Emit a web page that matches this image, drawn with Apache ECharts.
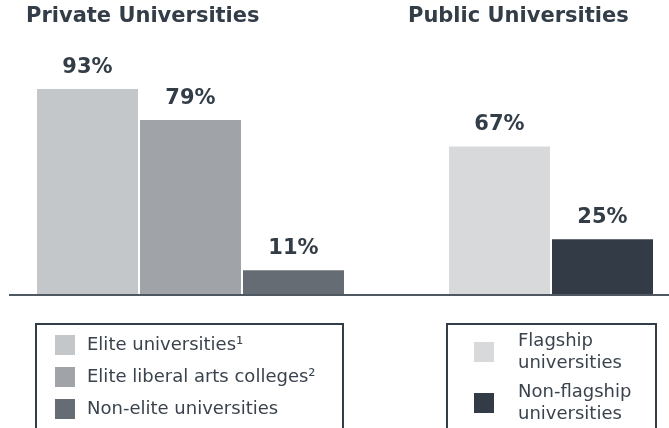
<!DOCTYPE html>
<html>
<head>
<meta charset="utf-8">
<script src="https://cdn.jsdelivr.net/npm/echarts@6/dist/echarts.min.js"></script>
<style>
html,body{margin:0;padding:0;background:#fff;}
#c{width:669px;height:428px;}
</style>
</head>
<body>
<div id="c"></div>
<script>
// ---- data ----
var categories = ['Elite', 'Liberal', 'NonElite', 'gap', 'Flagship', 'NonFlagship'];
var seriesNames = ['Elite universities\u00b9', 'Elite liberal arts colleges\u00b2', 'Non-elite universities', 'Flagship\nuniversities', 'Non-flagship\nuniversities'];
var seriesSlots = [0, 1, 2, 4, 5];
var seriesValues = [93, 79, 11, 67, 25];
var seriesColors = ['#c4c7ca', '#a0a3a7', '#666c73', '#d8d9db', '#333c46'];
var groupTitles = ['Private Universities', 'Public Universities'];
var privateLegend = seriesNames.slice(0, 3);
var publicLegend = seriesNames.slice(3);

var FONT = 'DejaVu Sans';
var TXT = '#333d47';

var chart = echarts.init(document.getElementById('c'), null, {renderer: 'canvas'});

var series = seriesNames.map(function (name, i) {
  var data = categories.map(function (c, j) { return j === seriesSlots[i] ? seriesValues[i] : '-'; });
  return {
    name: name,
    type: 'bar',
    stack: 'all',
    barWidth: 101,
    data: data,
    itemStyle: {color: seriesColors[i]},
    label: {
      show: true, position: 'top', distance: 11,
      formatter: '{c}%',
      color: TXT, fontFamily: FONT, fontWeight: 'bold', fontSize: 21
    },
    emphasis: {disabled: true}
  };
});

var option = {
  animation: false,
  title: [
    {text: groupTitles[0], left: 26, top: 6, padding: 0,
     textStyle: {fontFamily: FONT, fontWeight: 'bold', fontSize: 21, lineHeight: 21, color: TXT}},
    {text: groupTitles[1], left: 408, top: 6, padding: 0,
     textStyle: {fontFamily: FONT, fontWeight: 'bold', fontSize: 21, lineHeight: 21, color: TXT}}
  ],
  grid: {left: 36, right: 15, top: 73.5, bottom: 133.5},
  xAxis: {
    type: 'category', data: categories,
    axisLine: {show: false}, axisTick: {show: false}, axisLabel: {show: false}
  },
  yAxis: {
    type: 'value', min: 0, max: 100,
    show: false, splitLine: {show: false}
  },
  legend: [
    {
      data: privateLegend, orient: 'vertical', left: 55, top: 335, padding: 0,
      icon: 'rect', itemWidth: 20, itemHeight: 20, itemGap: 12,
      selectedMode: false,
      textStyle: {fontFamily: FONT, fontSize: 18, lineHeight: 20, color: '#3a434d', padding: [0, 0, 0, 7]}
    },
    {
      data: publicLegend, orient: 'vertical', left: 474, top: 330, padding: 0,
      icon: 'rect', itemWidth: 20, itemHeight: 20, itemGap: 7,
      selectedMode: false,
      textStyle: {fontFamily: FONT, fontSize: 18, lineHeight: 22, color: '#3a434d', padding: [0, 0, 0, 19]}
    }
  ],
  series: series
};
chart.setOption(option);

var y0 = chart.convertToPixel({yAxisIndex: 0}, 0);
chart.setOption({
  graphic: [
    {type: 'line', shape: {x1: 9, y1: y0 + 0.5, x2: 669, y2: y0 + 0.5}, style: {stroke: '#4f5860', lineWidth: 2}, z: 10},
    {type: 'rect', shape: {x: 36, y: 324, width: 307, height: 130}, style: {fill: 'none', stroke: '#333d47', lineWidth: 2}},
    {type: 'rect', shape: {x: 447, y: 324, width: 209, height: 130}, style: {fill: 'none', stroke: '#333d47', lineWidth: 2}}
  ]
});
</script>
</body>
</html>
